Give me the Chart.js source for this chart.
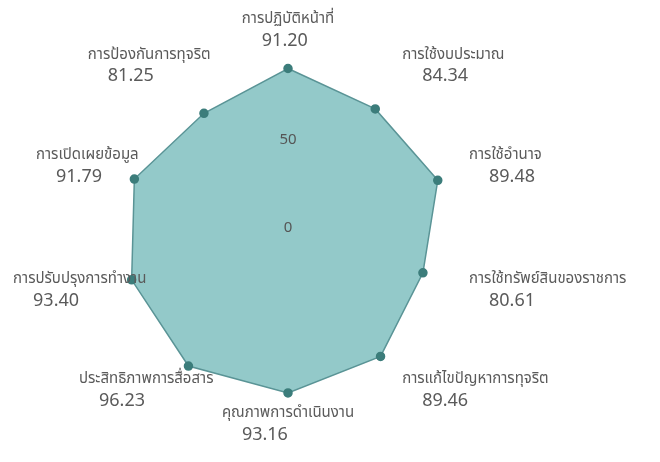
<!DOCTYPE html>
<html>
<head>
<meta charset="utf-8">
<script src="https://cdn.jsdelivr.net/npm/chart.js@4/dist/chart.umd.min.js"></script>
<style>
  html, body { margin: 0; padding: 0; background: #fff; }
  .wrap { width: 660px; height: 462px; }
</style>
</head>
<body>
<div class="wrap"><canvas id="radarChart"></canvas></div>
<script>
// categories, clockwise from the top
const categories = [
    'การปฏิบัติหน้าที่',
    'การใช้งบประมาณ',
    'การใช้อำนาจ',
    'การใช้ทรัพย์สินของราชการ',
    'การแก้ไขปัญหาการทุจริต',
    'คุณภาพการดำเนินงาน',
    'ประสิทธิภาพการสื่อสาร',
    'การปรับปรุงการทำงาน',
    'การเปิดเผยข้อมูล',
    'การป้องกันการทุจริต'
];
const scores = [91.20, 84.34, 89.48, 80.61, 89.46, 93.16, 96.23, 93.40, 91.79, 81.25];
const tickValues = [0, 50];

const FONT = "'Noto Sans Thai', 'Noto Sans', 'DejaVu Sans', sans-serif";
const labelColor = '#5a5a5a';

// point labels: name on top, score below it (bigger, indented a bit)
const categoryLabels = {
    id: 'categoryLabels',
    afterDraw(chart) {
        const scale = chart.scales.r;
        const ctx = chart.ctx;
        const cx = scale.xCenter, cy = scale.yCenter;
        const n = categories.length;
        ctx.save();
        ctx.fillStyle = labelColor;
        ctx.textBaseline = 'middle';
        ctx.textAlign = 'left';
        categories.forEach((name, i) => {
            const pos = scale.getPointPosition(i, scale.drawingArea + 8);
            ctx.font = '15px ' + FONT;
            const w = ctx.measureText(name).width;
            let left, mid;
            if (i === 0) {
                left = pos.x - w / 2;
                mid = pos.y - 14;
            } else if (i === n / 2) {
                left = pos.x - w / 2;
                mid = pos.y + 12;
            } else {
                mid = pos.y + 0.09 * (pos.y - cy);
                if (pos.x > cx) {
                    left = pos.x + 6;
                } else {
                    left = Math.max(12, pos.x - 0.75 * w);
                }
            }
            ctx.fillText(name, left, mid - 11);
            ctx.font = '18px ' + FONT;
            ctx.fillText(scores[i].toFixed(2), left + 20, mid + 11);
        });
        ctx.restore();
    }
};

new Chart(document.getElementById('radarChart'), {
    type: 'radar',
    data: {
        labels: categories,
        datasets: [{
            data: scores,
            backgroundColor: 'rgba(105, 180, 180, 0.72)',
            borderColor: '#5a9496',
            borderWidth: 1.5,
            pointBackgroundColor: '#3c7d7b',
            pointBorderColor: '#3c7d7b',
            pointRadius: 4
        }]
    },
    options: {
        responsive: true,
        maintainAspectRatio: false,
        animation: false,
        layout: { padding: { top: 44, bottom: 47, left: 60, right: 144 } },
        plugins: {
            legend: { display: false },
            tooltip: { enabled: false }
        },
        scales: {
            r: {
                min: 0,
                max: 100,
                afterBuildTicks: (scale) => {
                    // first tick is never drawn by the radial scale, so pad with one
                    scale.ticks = [{ value: 0 }].concat(tickValues.map(v => ({ value: v })));
                },
                grid: { display: false },
                angleLines: { color: 'rgba(255, 255, 255, 0.12)' },
                ticks: {
                    z: 1,
                    showLabelBackdrop: false,
                    color: '#555',
                    font: { family: FONT, size: 15 },
                    callback: (v) => String(v)
                },
                pointLabels: { display: false }
            }
        }
    },
    plugins: [categoryLabels]
});
</script>
</body>
</html>
